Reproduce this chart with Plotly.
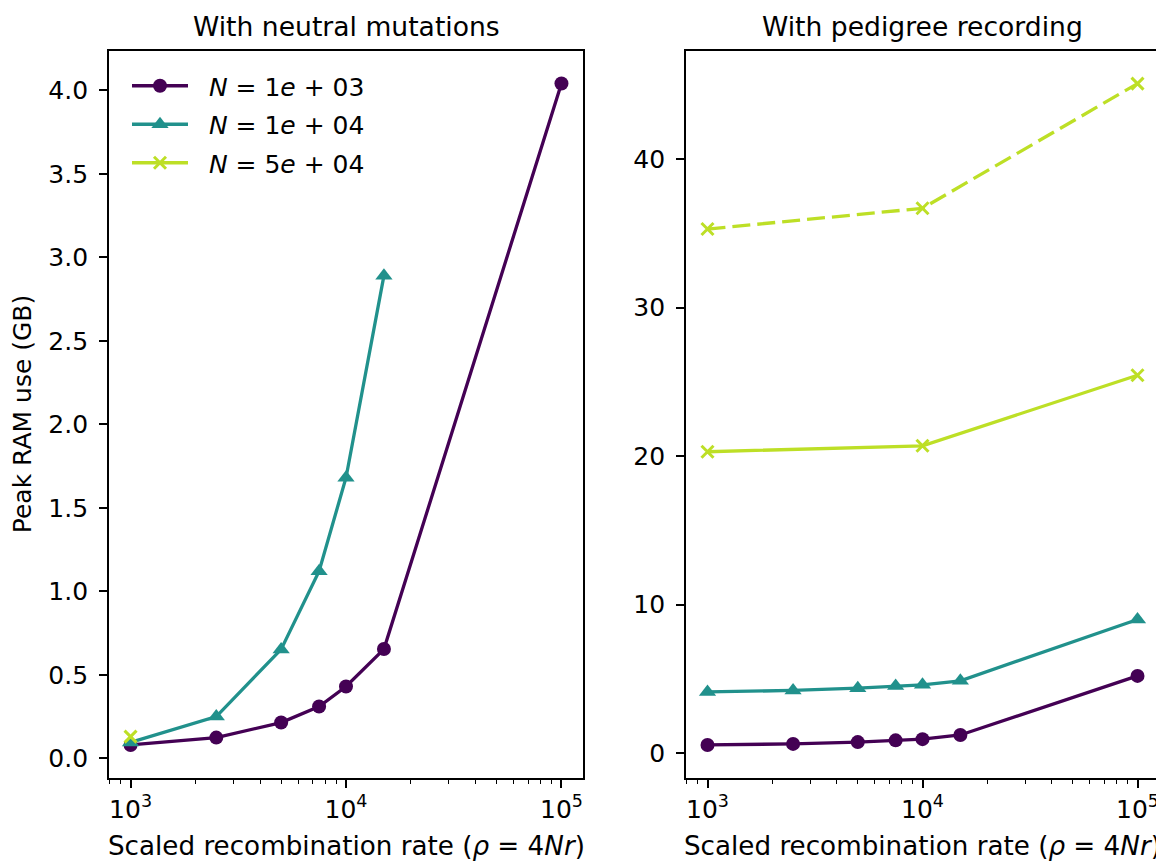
import plotly.graph_objects as go
import math

# ---------------- data ----------------
rho = [1000, 2500, 5000, 7500, 10000, 15000, 100000]
rho_n1e4_left = [1000, 2500, 5000, 7500, 10000, 15000]
rho_n5e4 = [1000, 10000, 100000]
rho_n5e4_left = [1000]

# Left panel: with neutral mutations (GB)
left_n1e3 = [0.08, 0.124, 0.214, 0.31, 0.43, 0.654, 4.04]
left_n1e4 = [0.095, 0.25, 0.652, 1.12, 1.68, 2.89]
left_n5e4 = [0.13]

# Right panel: with pedigree recording (GB)
right_n1e3 = [0.55, 0.62, 0.74, 0.86, 0.94, 1.22, 5.2]
right_n1e4 = [4.12, 4.22, 4.37, 4.52, 4.6, 4.87, 9.0]
right_n5e4 = [20.3, 20.7, 25.45]
right_n5e4_dashed = [35.3, 36.7, 45.1]

labels = ["<i>N</i> = 1<i>e</i> + 03", "<i>N</i> = 1<i>e</i> + 04", "<i>N</i> = 5<i>e</i> + 04"]
colors = ["#440154", "#21918c", "#bddf26"]

xtickvals = [1000, 10000, 100000]
xticktext = ["10<sup>3</sup>", "10<sup>4</sup>", "10<sup>5</sup>"]
minor_vals = [m * 10 ** e for e in (2, 3, 4) for m in range(2, 10)]

FONT = "DejaVu Sans"
FS = 25
W, H = 1164, 863
OFF = 8  # page body margin


def px_x(p):
    return (p - OFF) / W


def px_y(p):
    return 1 - (p - OFF) / H


fig = go.Figure()


def add(x, y, color, symbol, xa, ya, name=None, show=False, dash="solid", group=None):
    if symbol == "x-thin":
        marker = dict(symbol="x-thin", size=12, color=color, line=dict(width=3, color=color))
    elif symbol == "triangle-up":
        marker = dict(symbol="triangle-up", size=15, color=color, line=dict(width=0))
    else:
        marker = dict(symbol="circle", size=14, color=color, line=dict(width=0))
    fig.add_trace(go.Scatter(x=x, y=y, mode="lines+markers",
                             name=("&nbsp;&nbsp;" + name) if name else None,
                             showlegend=show, legendgroup=group,
                             line=dict(color=color, width=3.3, dash=dash), marker=marker,
                             xaxis=xa, yaxis=ya))


add(rho, left_n1e3, colors[0], "circle", "x", "y", labels[0], True, group="a")
add(rho_n1e4_left, left_n1e4, colors[1], "triangle-up", "x", "y", labels[1], True, group="b")
add(rho_n5e4_left, left_n5e4, colors[2], "x-thin", "x", "y", labels[2], True, group="c")

add(rho, right_n1e3, colors[0], "circle", "x2", "y2")
add(rho, right_n1e4, colors[1], "triangle-up", "x2", "y2")
add(rho_n5e4, right_n5e4, colors[2], "x-thin", "x2", "y2")
add(rho_n5e4, right_n5e4_dashed, colors[2], "x-thin", "x2", "y2", dash="18px,7px")


def pad_range(vals):
    lo, hi = min(vals), max(vals)
    m = 0.05 * (hi - lo)
    return [lo - m, hi + m]


lo_x, hi_x = math.log10(min(rho)), math.log10(max(rho))
mx = 0.05 * (hi_x - lo_x)
xrange_log = [lo_x - mx, hi_x + mx]

left_all = left_n1e3 + left_n1e4 + left_n5e4
right_all = right_n1e3 + right_n1e4 + right_n5e4 + right_n5e4_dashed

# pixel geometry (reference coordinates)
L1, R1 = 109, 583
L2, R2 = 686, 1159
TOP, BOT = 50.5, 778

common_ax = dict(showline=True, linecolor="black", linewidth=1.8, mirror=True,
                 ticks="outside", ticklen=8, tickwidth=1.6, tickcolor="black",
                 showgrid=False, zeroline=False,
                 tickfont=dict(family=FONT, size=FS, color="black"))

xcommon = dict(common_ax, type="log", range=xrange_log, tickmode="array",
               tickvals=xtickvals, ticktext=xticktext,
               minor=dict(tickmode="array", tickvals=minor_vals, ticks="outside",
                          ticklen=4.5, tickwidth=1.2, tickcolor="black", showgrid=False))

ydom = [px_y(BOT), px_y(TOP)]

fig.update_layout(
    width=W, height=H,
    margin=dict(l=0, r=0, t=0, b=0),
    paper_bgcolor="white", plot_bgcolor="white",
    font=dict(family=FONT, size=FS, color="black"),
    xaxis=dict(xcommon, domain=[px_x(L1), px_x(R1)], anchor="y"),
    xaxis2=dict(xcommon, domain=[px_x(L2), px_x(R2)], anchor="y2"),
    yaxis=dict(common_ax, domain=ydom, anchor="x", ticklabelstandoff=6,
               range=pad_range(left_all), tick0=0, dtick=0.5, tickformat=".1f"),
    yaxis2=dict(common_ax, domain=ydom, anchor="x2", ticklabelstandoff=6,
                range=pad_range(right_all), tick0=0, dtick=10),
    legend=dict(x=px_x(127), y=px_y(63), xanchor="left", yanchor="top",
                bgcolor="rgba(0,0,0,0)", borderwidth=0, itemwidth=56,
                traceorder="grouped", tracegroupgap=3,
                font=dict(family=FONT, size=FS, color="black")),
    showlegend=True,
)

ann = [
    dict(text="With neutral mutations", x=px_x((L1 + R1) / 2), y=px_y(26), size=26.6),
    dict(text="With pedigree recording", x=px_x((L2 + R2) / 2), y=px_y(26), size=26.6),
    dict(text="Scaled recombination rate (<i>ρ</i> = 4<i>Nr</i>)", x=px_x((L1 + R1) / 2), y=px_y(846), size=26.2),
    dict(text="Scaled recombination rate (<i>ρ</i> = 4<i>Nr</i>)", x=px_x((L2 + R2) / 2), y=px_y(846), size=26.2),
    dict(text="Peak RAM use (GB)", x=px_x(22), y=px_y((TOP + BOT) / 2), size=25, textangle=-90),
]
for a in ann:
    size = a.pop("size")
    fig.add_annotation(xref="paper", yref="paper", showarrow=False,
                       xanchor="center", yanchor="middle",
                       font=dict(family=FONT, size=size, color="black"), **a)

fig.write_html("out.html")
